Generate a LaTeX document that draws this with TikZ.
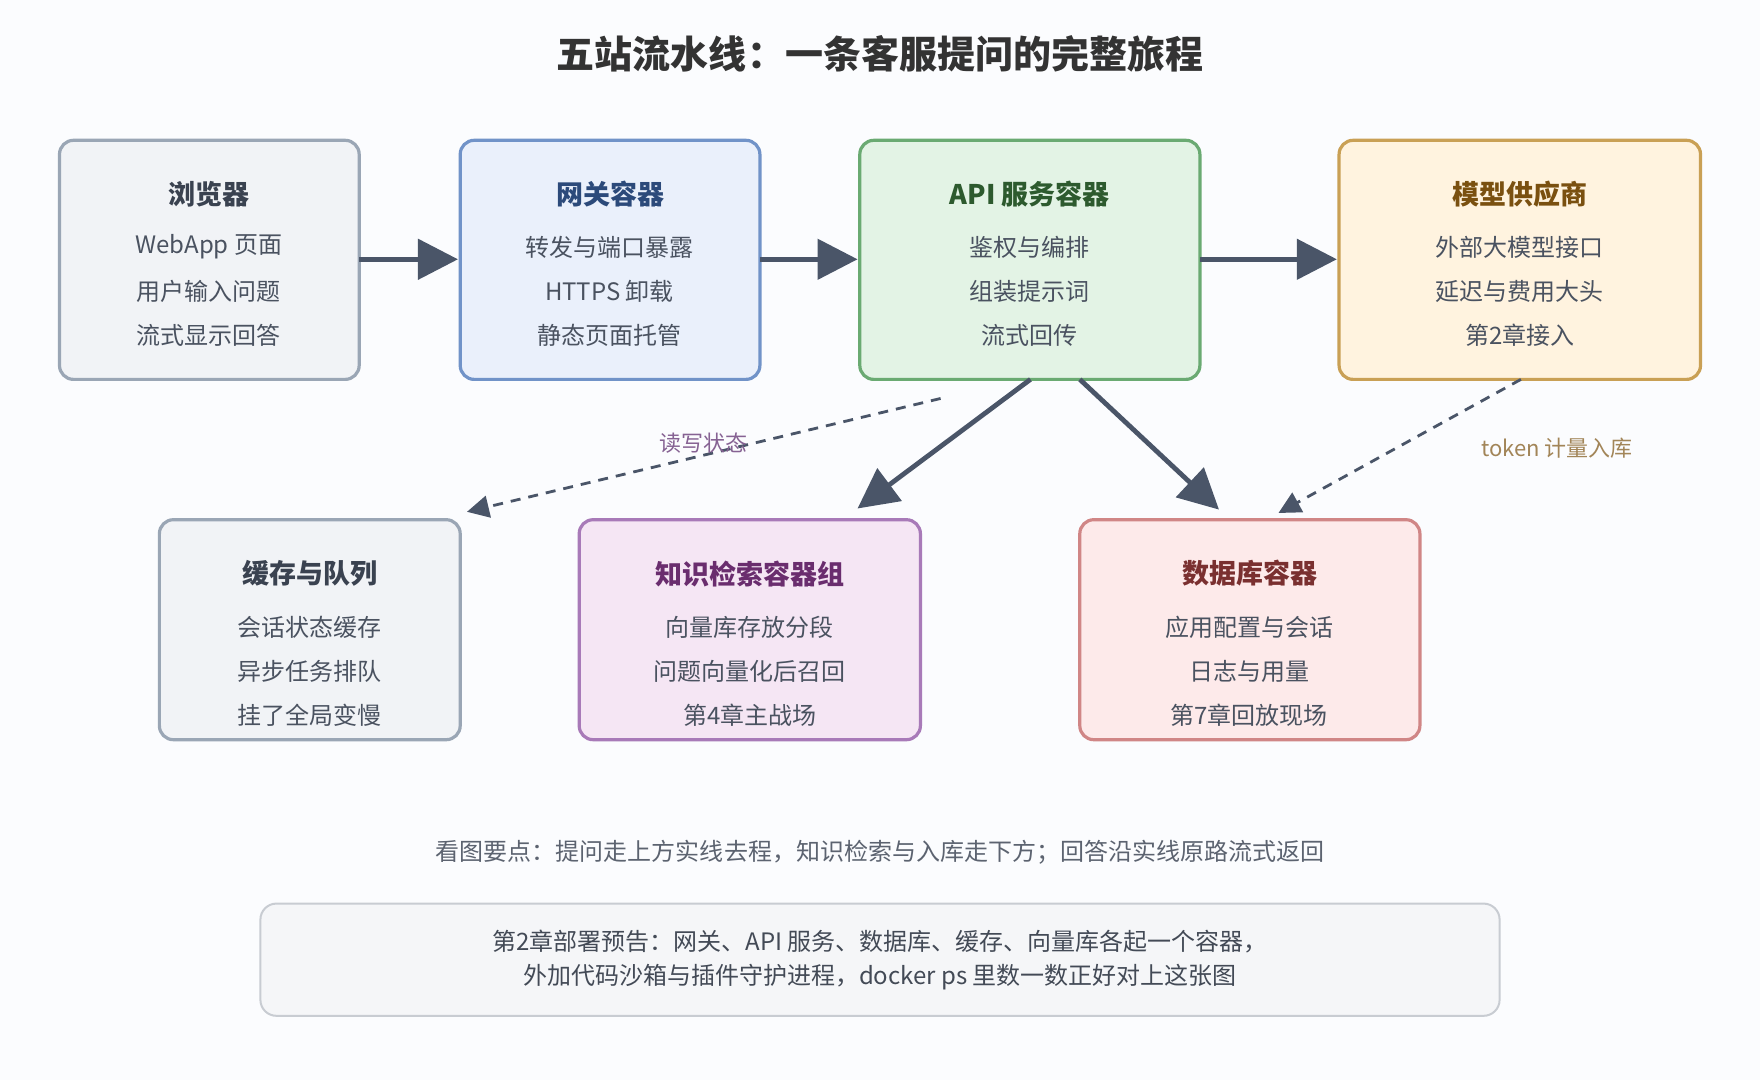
\documentclass[tikz,border=0pt]{standalone}
\usepackage{fontspec}
\setmainfont{Noto Sans CJK SC}
\usetikzlibrary{arrows.meta}
\definecolor{bg}{HTML}{FBFCFE}
\definecolor{arr}{HTML}{4A5568}
\definecolor{txt}{HTML}{4A5260}
\definecolor{nF}{HTML}{F5F6F8}
\definecolor{nD}{HTML}{C8CCD2}
\begin{document}
\begin{tikzpicture}[x=0.5612pt,y=-0.5612pt,
 ttl/.style={font=\bfseries\fontsize{13.5}{15}\selectfont},
 ln/.style={font=\fontsize{12}{14}\selectfont, text=txt},
 sol/.style={draw=arr, line width=2.4pt, -{Triangle[length=20pt,width=20pt]}},
 dsh/.style={draw=arr, line width=1.4pt, dash pattern=on 5pt off 4pt, -{Triangle[length=11pt,width=11pt]}}]
\fill[bg] (0,0) rectangle (1568,962);
\useasboundingbox (0,0) rectangle (1568,962);
\node[font=\bfseries\fontsize{19}{21}\selectfont, text=black!80] (title) at (784,48) {五站流水线：一条客服提问的完整旅程};
% boxes
\newcommand{\mkbox}[9]{%
 \draw[fill=#6, draw=#7, line width=1.6pt, rounded corners=7pt] (#2,#3) rectangle (#4,#5);
 \node[ttl, text=#8] (#1) at ({(#2+#4)/2},{#3+48}) {#9};}
\definecolor{gF}{HTML}{F1F3F6}\definecolor{gD}{HTML}{9AA6B5}\definecolor{gT}{HTML}{3A4250}
\definecolor{bF}{HTML}{EAF0FB}\definecolor{bD}{HTML}{7193C8}\definecolor{bT}{HTML}{2C4A7A}
\definecolor{eF}{HTML}{E3F3E5}\definecolor{eD}{HTML}{6AAA72}\definecolor{eT}{HTML}{2D5A2E}
\definecolor{oF}{HTML}{FFF3DF}\definecolor{oD}{HTML}{C9A055}\definecolor{oT}{HTML}{7A5010}
\definecolor{pF}{HTML}{F5E6F4}\definecolor{pD}{HTML}{A87AB8}\definecolor{pT}{HTML}{6A2D6E}
\definecolor{rF}{HTML}{FDEAEA}\definecolor{rD}{HTML}{D08686}\definecolor{rT}{HTML}{7A3030}
\mkbox{browser}{53}{125}{320}{338}{gF}{gD}{gT}{浏览器}
\mkbox{gateway}{410}{125}{677}{338}{bF}{bD}{bT}{网关容器}
\mkbox{api}{766}{125}{1069}{338}{eF}{eD}{eT}{API 服务容器}
\mkbox{model}{1193}{125}{1515}{338}{oF}{oD}{oT}{模型供应商}
\mkbox{cache}{142}{463}{410}{659}{gF}{gD}{gT}{缓存与队列}
\mkbox{know}{516}{463}{820}{659}{pF}{pD}{pT}{知识检索容器组}
\mkbox{db}{962}{463}{1265}{659}{rF}{rD}{rT}{数据库容器}
\node[ln] (b1) at (186,220) {WebApp 页面};
\node[ln] (b2) at (186,260) {用户输入问题};
\node[ln] (b3) at (186,299) {流式显示回答};
\node[ln] (g1) at (543,220) {转发与端口暴露};
\node[ln] (g2) at (543,260) {HTTPS 卸载};
\node[ln] (g3) at (543,299) {静态页面托管};
\node[ln] (a1) at (917,220) {鉴权与编排};
\node[ln] (a2) at (917,260) {组装提示词};
\node[ln] (a3) at (917,299) {流式回传};
\node[ln] (m1) at (1354,220) {外部大模型接口};
\node[ln] (m2) at (1354,260) {延迟与费用大头};
\node[ln] (m3) at (1354,299) {第2章接入};
\node[ln] (c1) at (276,559) {会话状态缓存};
\node[ln] (c2) at (276,598) {异步任务排队};
\node[ln] (c3) at (276,637) {挂了全局变慢};
\node[ln] (k1) at (668,559) {向量库存放分段};
\node[ln] (k2) at (668,598) {问题向量化后召回};
\node[ln] (k3) at (668,637) {第4章主战场};
\node[ln] (d1) at (1113,559) {应用配置与会话};
\node[ln] (d2) at (1113,598) {日志与用量};
\node[ln] (d3) at (1113,637) {第7章回放现场};
% connectors
\coordinate (bR) at (320,231); \coordinate (gL) at (408,231);
\coordinate (gR) at (677,231); \coordinate (aL) at (764,231);
\coordinate (aR) at (1069,231); \coordinate (mL) at (1191,231);
\coordinate (aB1) at (918,338); \coordinate (kT) at (764,453);
\coordinate (aB2) at (962,338); \coordinate (dT) at (1086,454);
\coordinate (aD) at (838,355); \coordinate (cT) at (416,456);
\coordinate (mB) at (1355,338); \coordinate (dT2) at (1139,457);
\draw[sol] (bR) -- (gL);
\draw[sol] (gR) -- (aL);
\draw[sol] (aR) -- (mL);
\draw[sol] (aB1) -- (kT);
\draw[sol] (aB2) -- (dT);
\draw[dsh] (aD) -- (cT);
\draw[dsh] (mB) -- (dT2);
\node[font=\fontsize{11}{12}\selectfont, text=pD!80!black] (l1) at (627,395) {读写状态};
\node[font=\fontsize{11}{12}\selectfont, text=oT!70] (l2) at (1387,399) {token 计量入库};
\node[ln, text=txt!90] (hint) at (784,759) {看图要点：提问走上方实线去程，知识检索与入库走下方；回答沿实线原路流式返回};
\draw[fill=nF, draw=nD, line width=1pt, rounded corners=8pt] (232,805) rectangle (1336,905);
\node[ln, align=center, text=txt!90!black] (note) at (784,855) {第2章部署预告：网关、API 服务、数据库、缓存、向量库各起一个容器，\\[3pt]外加代码沙箱与插件守护进程，docker ps 里数一数正好对上这张图};
\end{tikzpicture}
\end{document}
